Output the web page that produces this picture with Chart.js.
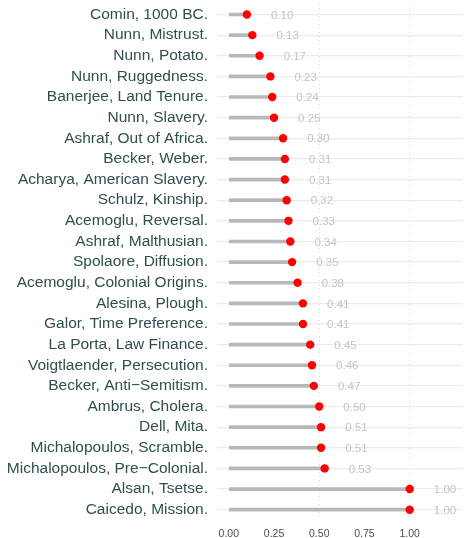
<!DOCTYPE html>
<html>
<head>
  <title>Lollipop Chart</title>
  <script src="https://cdn.jsdelivr.net/npm/chart.js"></script>
  <style>
    html, body { margin: 0; padding: 0; background: #ffffff; }
    #chartContainer { width: 467px; height: 538px; }
  </style>
</head>
<body>
  <div id="chartContainer">
    <canvas id="lollipopChart" width="467" height="538"></canvas>
  </div>

  <script>
    // Study names (top to bottom)
    const studies = [
      'Comin, 1000 BC.', 'Nunn, Mistrust.', 'Nunn, Potato.', 'Nunn, Ruggedness.',
      'Banerjee, Land Tenure.', 'Nunn, Slavery.', 'Ashraf, Out of Africa.', 'Becker, Weber.',
      'Acharya, American Slavery.', 'Schulz, Kinship.', 'Acemoglu, Reversal.', 'Ashraf, Malthusian.',
      'Spolaore, Diffusion.', 'Acemoglu, Colonial Origins.', 'Alesina, Plough.', 'Galor, Time Preference.',
      'La Porta, Law Finance.', 'Voigtlaender, Persecution.', 'Becker, Anti\u2212Semitism.', 'Ambrus, Cholera.',
      'Dell, Mita.', 'Michalopoulos, Scramble.', 'Michalopoulos, Pre\u2212Colonial.', 'Alsan, Tsetse.',
      'Caicedo, Mission.'
    ];

    // Value for each study
    const scores = [
      0.10, 0.13, 0.17, 0.23, 0.24, 0.25, 0.30, 0.31, 0.31, 0.32, 0.33, 0.34, 0.35,
      0.38, 0.41, 0.41, 0.45, 0.46, 0.47, 0.50, 0.51, 0.51, 0.53, 1.00, 1.00
    ];

    // X axis tick labels
    const xTicks = [0, 0.25, 0.5, 0.75, 1];

    // Draws the value text to the right of each dot
    const valueLabels = {
      id: 'valueLabels',
      afterDatasetsDraw(chart) {
        const ctx = chart.ctx;
        const xScale = chart.scales.x;
        const yScale = chart.scales.y;
        ctx.save();
        ctx.font = '11.5px "Liberation Sans", Arial, sans-serif';
        ctx.fillStyle = '#c4c4c4';
        ctx.textAlign = 'center';
        ctx.textBaseline = 'middle';
        scores.forEach((v, i) => {
          ctx.fillText(v.toFixed(2), xScale.getPixelForValue(v + 0.195), yScale.getPixelForValue(i) + 1);
        });
        ctx.restore();
      }
    };

    const ctx = document.getElementById('lollipopChart').getContext('2d');
    const myChart = new Chart(ctx, {
      type: 'bar',
      data: {
        labels: studies,
        datasets: [
          {
            // the sticks
            type: 'bar',
            data: scores,
            backgroundColor: '#b8b8b8',
            barThickness: 3,
            indexAxis: 'y',
            order: 2
          },
          {
            // the dots
            type: 'line',
            data: scores,
            showLine: false,
            pointRadius: 4.2,
            pointHoverRadius: 4.2,
            pointBackgroundColor: '#ff0000',
            pointBorderWidth: 0,
            indexAxis: 'y',
            order: 1
          }
        ]
      },
      options: {
        indexAxis: 'y',
        responsive: false,
        animation: false,
        layout: { padding: { top: 4, right: 0, left: 0, bottom: 0 } },
        plugins: {
          legend: { display: false },
          tooltip: { enabled: false }
        },
        scales: {
          x: {
            type: 'linear',
            min: -0.0652,
            max: 1.2935,
            afterBuildTicks: (scale) => { scale.ticks = xTicks.map(v => ({ value: v })); },
            afterFit: (scale) => { scale.height = 18; scale.paddingLeft = 0; scale.paddingRight = 0; },
            ticks: {
              padding: 8,
              font: { size: 10.5, family: '"Liberation Sans", Arial, sans-serif' },
              color: '#4d4d4d',
              callback: (v) => Number(v).toFixed(2)
            },
            grid: {
              drawTicks: false,
              color: (c) => (c.tick && (c.tick.value === 0.5 || c.tick.value === 1)) ? '#d6d6d6' : 'rgba(0,0,0,0)',
              lineWidth: 1
            },
            border: { display: false, dash: [1, 3] }
          },
          y: {
            afterFit: (scale) => { scale.width = 217; scale.paddingTop = 0; scale.paddingBottom = 0; },
            ticks: {
              autoSkip: false,
              padding: 9,
              font: { size: 15.5, family: '"Liberation Sans", Arial, sans-serif' },
              color: '#2f4f4f'
            },
            grid: {
              drawTicks: false,
              offset: false,
              color: '#ebebeb',
              lineWidth: 1.2
            },
            border: { display: false }
          }
        }
      },
      plugins: [valueLabels]
    });
  </script>
</body>
</html>
